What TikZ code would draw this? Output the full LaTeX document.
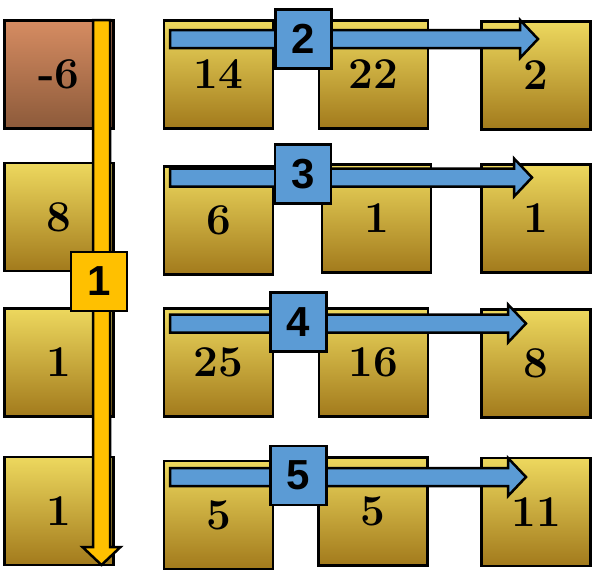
\documentclass[tikz,border=0pt]{standalone}
\usepackage{fontspec}
\newfontfamily\tagfont{Liberation Sans}
\usetikzlibrary{calc}
\definecolor{goldtop}{HTML}{EDD85E}
\definecolor{goldmid}{HTML}{D6B438}
\definecolor{goldbot}{HTML}{A27A1C}
\definecolor{coppertop}{HTML}{D68C62}
\definecolor{copperbot}{HTML}{8C5A3A}
\definecolor{tagblue}{HTML}{5B9BD5}
\definecolor{tagyellow}{HTML}{FFC000}
\tikzset{
  cell/.style={draw=black,line width=2.5pt,minimum width=109pt,minimum height=108pt,
    top color=goldtop,middle color=goldmid,bottom color=goldbot,
    font=\bfseries\fontsize{44}{44}\selectfont},
  coppercell/.style={cell,top color=coppertop,middle color=coppertop!60!copperbot,bottom color=copperbot},
  tag/.style={draw=black,line width=2.5pt,minimum width=56pt,minimum height=59pt,
    font=\tagfont\bfseries\fontsize{42}{42}\selectfont},
  blockline/.style={draw=black,line width=2.5pt,line join=miter}
}
% block arrows: start, tip, colour
\newcommand{\rarrow}[3]{\path[blockline,fill=#3] ($(#1)+(0,-9)$) -- ($(#2)+(-18,-9)$) -- ($(#2)+(-18,-19)$) -- (#2) -- ($(#2)+(-18,19)$) -- ($(#2)+(-18,9)$) -- ($(#1)+(0,9)$) -- cycle;}
\newcommand{\darrow}[3]{\path[blockline,fill=#3] ($(#1)+(-8.5,0)$) -- ($(#2)+(-8.5,-18)$) -- ($(#2)+(-19,-18)$) -- (#2) -- ($(#2)+(19,-18)$) -- ($(#2)+(8.5,-18)$) -- ($(#1)+(8.5,0)$) -- cycle;}
\begin{document}
\begin{tikzpicture}[x=1pt,y=-1pt]
 \useasboundingbox (0,0) rectangle (592,576);
 % cells
 \node[coppercell] (a1) at (59,74.5) {-6};
 \node[cell] (a2) at (59,217) {8};
 \node[cell] (a3) at (59,362.5) {1};
 \node[cell] (a4) at (59,511) {1};
 \node[cell] (b1) at (218.5,74.5) {14};
 \node[cell] (b2) at (218.5,220.5) {6};
 \node[cell] (b3) at (218.5,362.5) {25};
 \node[cell] (b4) at (218.5,515) {5};
 \node[cell] (c1) at (373.5,74.5) {22};
 \node[cell] (c2) at (376.5,218.5) {1};
 \node[cell] (c3) at (373.5,362.5) {16};
 \node[cell] (c4) at (373,511.5) {5};
 \node[cell] (d1) at (536,75.5) {2};
 \node[cell] (d2) at (536,218.5) {1};
 \node[cell] (d3) at (536,363.5) {8};
 \node[cell] (d4) at (536,512) {11};
 % arrow ends
 \coordinate (s1) at (101.5,20);  \coordinate (t1) at (101.5,565);
 \coordinate (s2) at (170,39);    \coordinate (t2) at (538,39);
 \coordinate (s3) at (170,177.5); \coordinate (t3) at (532,177.5);
 \coordinate (s4) at (170,323.5); \coordinate (t4) at (526,323.5);
 \coordinate (s5) at (170,477);   \coordinate (t5) at (526,477);
 \darrow{s1}{t1}{tagyellow}
 \rarrow{s2}{t2}{tagblue}
 \rarrow{s3}{t3}{tagblue}
 \rarrow{s4}{t4}{tagblue}
 \rarrow{s5}{t5}{tagblue}
 % step tags
 \node[tag,fill=tagyellow] (n1) at (99,281.5) {1};
 \node[tag,fill=tagblue] (n2) at (303.5,39) {2};
 \node[tag,fill=tagblue] (n3) at (303,174) {3};
 \node[tag,fill=tagblue] (n4) at (298.5,322) {4};
 \node[tag,fill=tagblue] (n5) at (298.5,475.5) {5};
\end{tikzpicture}
\end{document}
